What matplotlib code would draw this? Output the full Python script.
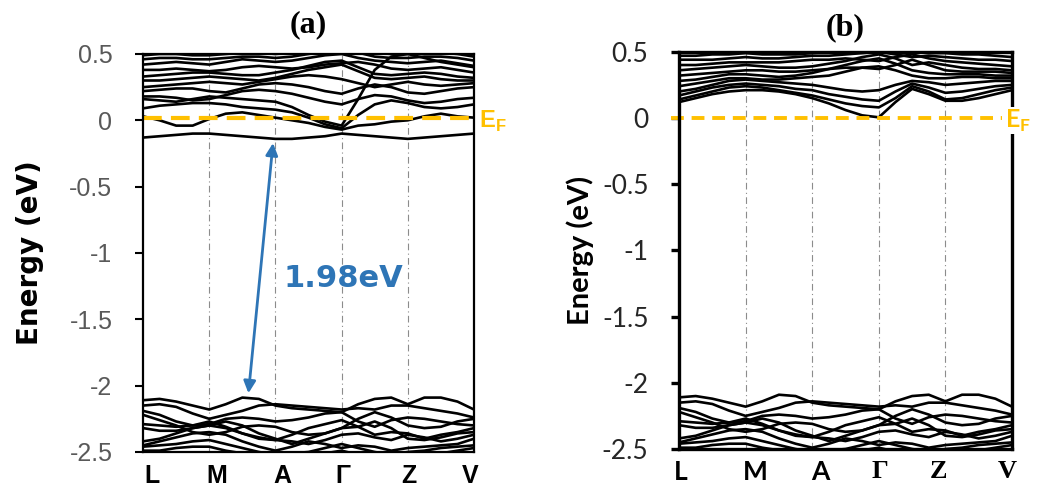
import matplotlib.pyplot as plt

# sampling along the path L-M-A-G-Z-V (same for every band)
kPath = [0.0, 0.25, 0.5, 0.75, 1.0, 1.25, 1.5, 1.75, 2.0, 2.25, 2.5,
         2.75, 3.0, 3.25, 3.5, 3.75, 4.0, 4.25, 4.5, 4.75, 5.0]
kTicks = [0, 1, 2, 3, 4, 5]
kLabels = ['L', 'M', 'A', 'Γ', 'Z', 'V']
# where the point names sit under each panel
labelPosA = [0.14, 1.12, 2.1, 3.02, 4.02, 4.94]
labelPosB = [0.03, 1.14, 2.12, 3.02, 3.9, 4.93]

# (a) conduction bands, eV
condA = [
    [-0.13, -0.12, -0.11, -0.10, -0.10, -0.11, -0.12, -0.13, -0.14, -0.14, -0.13, -0.12, -0.10, -0.11, -0.12, -0.13, -0.14, -0.13, -0.12, -0.11, -0.10],
    [0.03, 0.00, -0.04, -0.04, 0.01, 0.05, 0.06, 0.04, 0.02, 0.00, -0.02, -0.05, -0.07, -0.04, -0.03, -0.01, 0.00, 0.03, 0.05, 0.03, 0.02],
    [0.09, 0.11, 0.12, 0.13, 0.13, 0.12, 0.10, 0.09, 0.08, 0.06, 0.02, -0.03, -0.06, 0.04, 0.12, 0.15, 0.13, 0.10, 0.09, 0.10, 0.12],
    [0.16, 0.15, 0.14, 0.16, 0.18, 0.17, 0.16, 0.15, 0.14, 0.10, 0.04, -0.01, -0.04, 0.16, 0.38, 0.48, 0.50, 0.47, 0.44, 0.42, 0.40],
    [0.18, 0.18, 0.17, 0.15, 0.16, 0.19, 0.22, 0.23, 0.22, 0.20, 0.17, 0.14, 0.12, 0.16, 0.19, 0.18, 0.15, 0.13, 0.14, 0.16, 0.17],
    [0.22, 0.23, 0.24, 0.24, 0.22, 0.21, 0.24, 0.27, 0.28, 0.27, 0.25, 0.22, 0.20, 0.24, 0.27, 0.25, 0.21, 0.20, 0.22, 0.24, 0.25],
    [0.25, 0.26, 0.27, 0.28, 0.29, 0.28, 0.27, 0.29, 0.31, 0.33, 0.34, 0.33, 0.31, 0.28, 0.25, 0.27, 0.29, 0.27, 0.26, 0.27, 0.28],
    [0.30, 0.30, 0.31, 0.32, 0.33, 0.32, 0.31, 0.30, 0.32, 0.35, 0.38, 0.40, 0.42, 0.37, 0.32, 0.31, 0.32, 0.33, 0.31, 0.30, 0.30],
    [0.33, 0.34, 0.35, 0.36, 0.36, 0.35, 0.34, 0.34, 0.36, 0.38, 0.41, 0.44, 0.45, 0.40, 0.35, 0.34, 0.35, 0.36, 0.35, 0.33, 0.32],
    [0.38, 0.38, 0.39, 0.38, 0.37, 0.38, 0.40, 0.41, 0.40, 0.39, 0.40, 0.42, 0.43, 0.44, 0.42, 0.39, 0.38, 0.39, 0.40, 0.38, 0.36],
    [0.42, 0.43, 0.44, 0.43, 0.42, 0.44, 0.46, 0.45, 0.44, 0.45, 0.47, 0.49, 0.50, 0.47, 0.45, 0.44, 0.43, 0.44, 0.45, 0.43, 0.41],
    [0.46, 0.47, 0.47, 0.46, 0.46, 0.47, 0.48, 0.48, 0.47, 0.48, 0.50, 0.52, 0.53, 0.51, 0.48, 0.47, 0.47, 0.48, 0.48, 0.47, 0.45],
    [0.49, 0.50, 0.50, 0.49, 0.49, 0.50, 0.51, 0.51, 0.50, 0.51, 0.53, 0.55, 0.56, 0.54, 0.51, 0.50, 0.50, 0.51, 0.51, 0.50, 0.48],
]

# (b) conduction bands, eV
condB = [
    [0.12, 0.15, 0.18, 0.20, 0.21, 0.21, 0.20, 0.18, 0.15, 0.11, 0.06, 0.02, 0.005, 0.12, 0.22, 0.18, 0.13, 0.13, 0.15, 0.18, 0.21],
    [0.14, 0.17, 0.20, 0.23, 0.24, 0.23, 0.21, 0.19, 0.17, 0.14, 0.11, 0.09, 0.08, 0.15, 0.24, 0.20, 0.14, 0.15, 0.18, 0.21, 0.23],
    [0.17, 0.20, 0.23, 0.25, 0.26, 0.25, 0.24, 0.22, 0.21, 0.18, 0.16, 0.14, 0.13, 0.20, 0.26, 0.23, 0.19, 0.20, 0.22, 0.24, 0.25],
    [0.20, 0.22, 0.25, 0.28, 0.29, 0.28, 0.27, 0.26, 0.25, 0.23, 0.21, 0.20, 0.21, 0.25, 0.28, 0.27, 0.25, 0.26, 0.27, 0.28, 0.28],
    [0.24, 0.26, 0.28, 0.30, 0.30, 0.29, 0.29, 0.30, 0.31, 0.32, 0.35, 0.38, 0.39, 0.36, 0.32, 0.30, 0.30, 0.31, 0.31, 0.30, 0.30],
    [0.28, 0.29, 0.31, 0.33, 0.33, 0.32, 0.31, 0.32, 0.34, 0.37, 0.40, 0.43, 0.45, 0.41, 0.36, 0.34, 0.33, 0.33, 0.33, 0.32, 0.32],
    [0.32, 0.33, 0.34, 0.35, 0.36, 0.36, 0.35, 0.35, 0.36, 0.37, 0.38, 0.38, 0.37, 0.40, 0.44, 0.40, 0.36, 0.35, 0.35, 0.35, 0.34],
    [0.36, 0.37, 0.38, 0.39, 0.40, 0.39, 0.38, 0.38, 0.39, 0.41, 0.43, 0.46, 0.48, 0.45, 0.40, 0.42, 0.40, 0.38, 0.37, 0.37, 0.36],
    [0.40, 0.40, 0.41, 0.42, 0.42, 0.42, 0.42, 0.43, 0.44, 0.44, 0.45, 0.44, 0.43, 0.46, 0.48, 0.45, 0.43, 0.42, 0.41, 0.40, 0.39],
    [0.44, 0.44, 0.44, 0.45, 0.46, 0.45, 0.45, 0.46, 0.47, 0.47, 0.48, 0.49, 0.50, 0.48, 0.46, 0.47, 0.46, 0.45, 0.44, 0.44, 0.43],
    [0.47, 0.47, 0.48, 0.48, 0.49, 0.48, 0.48, 0.48, 0.49, 0.50, 0.51, 0.52, 0.53, 0.52, 0.50, 0.49, 0.49, 0.48, 0.48, 0.47, 0.46],
]

# valence bands (same in both panels), eV
valence = [
    [-2.11, -2.10, -2.12, -2.15, -2.18, -2.14, -2.09, -2.10, -2.15, -2.17, -2.18, -2.19, -2.20, -2.14, -2.10, -2.09, -2.14, -2.09, -2.09, -2.12, -2.18],
    [-2.15, -2.14, -2.16, -2.21, -2.25, -2.22, -2.19, -2.15, -2.14, -2.15, -2.16, -2.17, -2.18, -2.17, -2.18, -2.15, -2.15, -2.17, -2.19, -2.21, -2.24],
    [-2.19, -2.22, -2.27, -2.30, -2.29, -2.25, -2.24, -2.25, -2.27, -2.26, -2.24, -2.21, -2.20, -2.27, -2.31, -2.26, -2.24, -2.25, -2.27, -2.29, -2.30],
    [-2.22, -2.26, -2.30, -2.35, -2.37, -2.35, -2.31, -2.30, -2.31, -2.35, -2.37, -2.36, -2.32, -2.25, -2.20, -2.24, -2.30, -2.32, -2.31, -2.27, -2.25],
    [-2.29, -2.30, -2.31, -2.30, -2.27, -2.31, -2.36, -2.40, -2.41, -2.37, -2.32, -2.29, -2.26, -2.31, -2.37, -2.35, -2.36, -2.40, -2.37, -2.35, -2.32],
    [-2.32, -2.34, -2.34, -2.32, -2.30, -2.27, -2.30, -2.36, -2.40, -2.44, -2.40, -2.36, -2.32, -2.31, -2.27, -2.32, -2.40, -2.41, -2.39, -2.36, -2.35],
    [-2.42, -2.40, -2.36, -2.32, -2.30, -2.32, -2.36, -2.39, -2.41, -2.42, -2.44, -2.41, -2.37, -2.36, -2.39, -2.41, -2.37, -2.39, -2.42, -2.40, -2.37],
    [-2.45, -2.42, -2.39, -2.36, -2.35, -2.37, -2.42, -2.46, -2.49, -2.46, -2.42, -2.44, -2.47, -2.45, -2.46, -2.49, -2.47, -2.46, -2.45, -2.44, -2.40],
    [-2.46, -2.45, -2.44, -2.42, -2.41, -2.44, -2.47, -2.50, -2.52, -2.51, -2.50, -2.47, -2.44, -2.47, -2.50, -2.52, -2.50, -2.49, -2.47, -2.46, -2.45],
    [-2.49, -2.49, -2.47, -2.46, -2.46, -2.49, -2.51, -2.53, -2.50, -2.52, -2.54, -2.51, -2.49, -2.52, -2.54, -2.51, -2.52, -2.54, -2.51, -2.49, -2.47],
]

fermiA = 0.015
fermiB = 0.0
gapA = 1.98
cbmA = -0.14
yTicks = [0.5, 0, -0.5, -1, -1.5, -2, -2.5]
yTickLabels = ['0.5', '0', '-0.5', '-1', '-1.5', '-2', '-2.5']

efColor = '#FFC000'
arrowColor = '#2E75B6'

fig = plt.figure(figsize=(10.51, 4.88), dpi=100)
axA = fig.add_axes([0.1361, 0.0738, 0.3149, 0.8156])
axB = fig.add_axes([0.6461, 0.0799, 0.3168, 0.8140])


def drawPanel(ax, bands, spineWidth, labelPos):
    for k in kTicks[1:-1]:
        ax.axvline(k, color='#8c8c8c', lw=0.8, ls=(0, (6, 3, 1, 3)), zorder=1)
    for band in bands + valence:
        ax.plot(kPath, band, color='black', lw=1.9, solid_joinstyle='round', zorder=2)
    ax.set_xlim(0, 5)
    ax.set_ylim(-2.5, 0.5)
    ax.set_yticks(yTicks)
    ax.set_yticklabels(yTickLabels)
    ax.set_xticks(labelPos)
    for s in ax.spines.values():
        s.set_linewidth(spineWidth)
        s.set_zorder(5)


# ---- panel (a)
drawPanel(axA, condA, 1.6, labelPosA)
axA.axhline(fermiA, color=efColor, lw=3, ls=(0, (4.5, 2.2)), zorder=3)
axA.tick_params(axis='y', direction='out', length=6, width=1.5, pad=16,
                labelsize=18, labelcolor='#595959')
axA.tick_params(axis='x', length=0, pad=9)
axA.set_xticklabels(kLabels, fontfamily='Liberation Sans', fontweight='bold', fontsize=18)
for lab in axA.get_yticklabels():
    lab.set_fontfamily('Liberation Sans')
axA.set_ylabel('Energy (eV)', fontsize=20, fontweight='bold', labelpad=18)
axA.set_title('(a)', fontfamily='Liberation Serif', fontweight='bold', fontsize=23, pad=16)
axA.text(1.015, fermiA - 0.02, r'E$_\mathregular{F}$', transform=axA.get_yaxis_transform(),
         color=efColor, fontsize=17, fontfamily='Liberation Sans', fontweight='bold',
         va='center', ha='left')

# band gap arrow
axA.annotate('', xy=(1.97, cbmA), xytext=(1.58, cbmA - gapA),
             arrowprops=dict(arrowstyle='<|-|>', color=arrowColor, lw=2,
                             mutation_scale=18, shrinkA=6, shrinkB=3))
axA.text(3.03, -1.19, '%.2feV' % gapA, color=arrowColor, fontsize=22,
         fontweight='bold', ha='center', va='center')

# ---- panel (b)
drawPanel(axB, condB, 2.4, labelPosB)
axB.axhline(fermiB, xmin=-0.025, xmax=0.97, color=efColor, lw=2.8,
            ls=(0, (3.3, 2.0)), zorder=3, clip_on=False)
axB.tick_params(axis='y', direction='out', length=6, width=2.4, pad=16,
                labelsize=19, labelcolor='#262626')
axB.tick_params(axis='x', length=0, pad=8)
axB.set_xticklabels(kLabels, fontsize=19, fontweight='bold')
for i, lab in enumerate(axB.get_xticklabels()):
    lab.set_fontfamily('Lato' if i < 3 else 'Liberation Serif')
for lab in axB.get_yticklabels():
    lab.set_fontfamily('Lato')
axB.set_ylabel('Energy (eV)', fontsize=21, fontweight='bold', fontfamily='Lato', labelpad=6)
axB.set_title('(b)', fontfamily='Liberation Serif', fontweight='bold', fontsize=23, pad=12)
axB.text(0.978, fermiB - 0.02, r'E$_\mathregular{F}$', transform=axB.get_yaxis_transform(),
         color=efColor, fontsize=18, fontfamily='Lato', fontweight='bold',
         va='center', ha='left', zorder=6,
         bbox=dict(facecolor='white', edgecolor='none', pad=0.5))

fig.savefig('out.png', dpi=100)
